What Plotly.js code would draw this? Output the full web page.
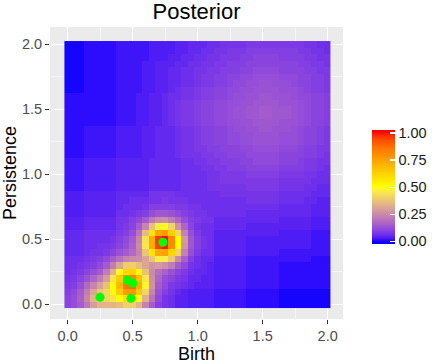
<!DOCTYPE html>
<html>
<head>
<meta charset="utf-8">
<script src="https://cdn.plot.ly/plotly-3.0.1.min.js"></script>
<style>html,body{margin:0;padding:0;background:#fff;}#chart{width:432px;height:364px;}</style>
</head>
<body>
<div id="chart"></div>
<script>
// Grid of tile centres (Birth on x, Persistence on y)
const gridX = [0,0.05,0.1,0.15,0.2,0.25,0.3,0.35,0.4,0.45,0.5,0.55,0.6,0.65,0.7,0.75,0.8,0.85,0.9,0.95,1,1.05,1.1,1.15,1.2,1.25,1.3,1.35,1.4,1.45,1.5,1.55,1.6,1.65,1.7,1.75,1.8,1.85,1.9,1.95,2];
const gridY = [0,0.05,0.1,0.15,0.2,0.25,0.3,0.35,0.4,0.45,0.5,0.55,0.6,0.65,0.7,0.75,0.8,0.85,0.9,0.95,1,1.05,1.1,1.15,1.2,1.25,1.3,1.35,1.4,1.45,1.5,1.55,1.6,1.65,1.7,1.75,1.8,1.85,1.9,1.95,2];

// Posterior intensity (in percent of max), one row per persistence value, bottom row first
const intensityPct = [
[10,12,15,21,29,34,34,34,36,40,40,34,23,15,9,7,6,4,4,3,3,3,3,2,2,2,2,2,1,1,1,1,1,0,0,0,0,0,0,0,0],
[10,12,16,24,34,40,42,44,51,59,59,49,33,20,11,7,6,4,4,3,3,3,3,2,2,2,2,2,1,1,1,1,1,0,0,0,0,0,0,0,0],
[9,11,15,22,31,38,42,50,64,77,78,64,41,24,13,9,7,5,4,3,3,3,3,2,2,2,2,2,1,1,1,1,1,0,0,0,0,0,0,0,0],
[8,9,12,18,24,30,37,50,69,86,88,72,48,27,15,11,8,7,6,5,4,4,4,3,3,3,3,3,2,2,2,2,2,1,1,1,1,1,1,1,1],
[7,8,10,13,17,22,29,44,64,80,82,67,45,26,17,12,10,8,7,5,5,4,4,3,3,3,3,3,2,2,2,2,2,1,1,1,1,1,1,1,1],
[6,7,8,10,12,15,22,33,49,61,62,52,37,25,19,16,13,10,8,6,5,5,4,3,3,3,3,3,2,2,2,2,2,1,1,1,1,1,1,1,1],
[6,6,7,8,9,11,15,22,31,39,40,36,31,27,28,26,22,15,11,7,6,5,4,3,3,3,3,3,2,2,2,2,2,1,1,1,1,1,1,1,1],
[6,6,6,7,8,9,11,15,19,23,25,26,31,38,46,46,38,25,16,9,6,5,5,3,3,3,3,3,2,2,2,2,2,2,2,2,2,2,1,1,1],
[5,5,5,6,7,7,8,10,13,15,18,24,38,57,73,75,61,40,23,12,8,6,6,4,4,4,4,4,3,3,3,3,3,2,2,2,2,2,2,2,2],
[5,5,5,6,6,7,7,8,10,12,16,25,45,72,95,99,80,50,27,14,9,7,6,4,4,4,4,4,3,3,3,3,3,3,3,3,3,3,2,2,2],
[5,5,5,6,6,6,6,7,9,11,15,24,44,72,96,100,81,51,28,14,9,7,6,4,4,4,4,4,3,3,3,3,3,3,3,3,3,3,2,2,2],
[5,5,5,6,6,6,6,6,8,9,12,20,36,57,74,77,63,41,23,12,8,6,6,4,4,4,4,4,4,4,4,4,4,3,3,3,3,3,2,2,2],
[4,4,4,5,5,5,5,5,7,8,10,15,24,37,47,49,41,27,17,10,7,6,6,5,5,5,5,5,4,4,4,4,4,4,4,4,4,4,3,3,3],
[4,4,4,5,5,5,5,5,7,7,9,11,15,21,25,26,22,17,12,9,8,7,7,5,5,5,5,5,5,5,5,5,5,4,4,4,4,4,3,3,3],
[3,3,3,4,4,4,4,4,6,6,7,8,9,12,14,14,13,11,9,8,7,7,6,6,6,6,6,6,5,5,5,5,5,5,5,5,5,5,4,4,4],
[3,3,3,4,4,4,4,4,5,6,6,6,7,9,9,9,9,8,8,7,7,6,6,6,6,6,6,6,6,6,6,6,6,5,5,5,5,5,4,4,4],
[3,3,3,4,4,4,4,4,5,5,6,6,6,7,7,8,7,7,7,6,6,6,6,6,6,6,6,6,7,7,7,7,7,6,6,6,6,5,5,4,4],
[3,3,3,4,4,4,4,4,5,5,5,5,5,7,7,7,7,6,6,6,6,6,6,6,7,7,7,7,7,7,7,7,7,6,6,6,6,6,5,5,5],
[2,2,2,3,3,3,3,3,4,4,4,4,4,5,5,5,5,5,6,6,6,6,7,7,7,7,7,7,8,8,8,8,8,7,7,7,7,6,6,5,5],
[2,2,2,3,3,3,3,3,4,4,4,4,4,5,5,5,5,5,6,6,6,6,7,7,8,8,8,8,8,8,8,8,8,7,7,7,7,7,6,6,6],
[2,2,2,3,3,3,3,3,4,4,4,4,4,5,5,5,5,5,6,6,6,6,7,7,8,8,8,8,9,9,9,9,9,8,8,8,8,7,7,6,6],
[2,2,2,3,3,3,3,3,4,4,4,4,4,5,5,5,5,5,6,6,6,7,7,8,8,9,9,9,10,10,10,10,10,9,9,9,9,8,8,7,6],
[2,2,2,3,3,3,3,3,4,4,4,4,4,5,5,5,5,5,6,6,7,7,8,8,9,9,9,10,10,11,11,11,11,10,10,10,9,8,8,7,7],
[1,1,1,2,2,2,2,2,3,3,3,3,4,4,5,5,5,6,7,7,7,8,8,9,9,10,10,10,11,11,11,11,11,10,10,10,10,9,9,8,7],
[1,1,1,2,2,2,2,2,3,3,3,3,4,4,5,5,5,6,7,7,8,8,9,9,10,10,10,11,11,12,12,12,12,11,11,11,10,9,9,8,8],
[1,1,1,2,2,2,2,2,3,3,3,3,4,4,5,5,5,6,7,7,8,9,9,10,10,11,11,12,12,13,13,13,13,12,12,12,11,10,10,9,8],
[1,1,1,2,2,2,2,2,3,3,3,3,4,4,5,5,5,6,7,7,8,9,9,10,10,11,11,12,12,13,13,13,13,12,12,12,11,10,10,9,8],
[1,1,1,2,2,2,2,2,3,3,3,3,4,4,5,5,5,6,7,7,8,9,9,10,10,11,12,12,13,13,14,14,13,13,13,12,11,10,10,9,8],
[1,1,1,1,1,1,1,1,2,2,2,3,3,4,4,5,6,7,8,8,9,10,10,11,11,12,12,13,13,14,14,14,14,13,13,13,12,11,10,10,9],
[1,1,1,1,1,1,1,1,2,2,2,3,3,4,4,5,6,7,8,8,9,10,10,11,11,12,13,13,14,14,15,15,14,14,14,13,12,11,10,10,9],
[1,1,1,1,1,1,1,1,2,2,2,3,3,4,4,5,6,7,8,8,9,10,10,11,11,12,13,13,14,14,15,15,14,14,14,13,12,11,10,10,9],
[1,1,1,1,1,1,1,1,2,2,2,3,3,4,4,5,6,7,8,8,9,10,10,11,11,12,12,13,13,14,14,14,14,13,13,13,12,11,10,10,9],
[1,1,1,1,1,1,1,1,2,2,2,3,3,4,4,5,6,6,7,7,8,9,9,10,10,11,12,12,13,13,14,14,13,13,13,12,11,11,10,10,9],
[0,0,0,1,1,1,1,1,2,2,2,2,3,3,4,4,5,6,7,7,8,9,9,10,10,11,11,12,12,13,13,13,13,12,12,12,11,10,9,9,8],
[0,0,0,1,1,1,1,1,2,2,2,2,3,3,4,4,5,5,6,6,7,8,8,9,9,10,11,11,12,12,13,13,12,12,12,11,10,10,9,9,8],
[0,0,0,1,1,1,1,1,2,2,2,2,3,3,4,4,5,5,6,6,7,8,8,9,9,10,10,11,11,12,12,12,12,11,11,11,10,10,9,9,8],
[0,0,0,1,1,1,1,1,2,2,2,2,3,3,4,4,5,5,6,6,7,7,8,8,9,9,9,10,10,11,11,11,11,10,10,10,10,9,9,8,8],
[0,0,0,1,1,1,1,1,2,2,2,2,3,3,4,4,4,5,5,6,6,7,7,8,8,9,9,9,10,10,10,10,10,10,10,10,9,9,8,8,7],
[0,0,0,1,1,1,1,1,2,2,2,2,2,3,3,3,4,4,5,5,6,6,7,7,8,8,8,9,9,10,10,10,10,9,9,9,9,8,8,7,7],
[0,0,0,1,1,1,1,1,2,2,2,2,2,3,3,3,3,4,4,5,5,6,6,7,7,8,8,8,9,9,9,9,9,9,9,9,8,8,7,7,6],
[0,0,0,1,1,1,1,1,2,2,2,2,2,3,3,3,3,4,4,5,5,5,6,6,7,7,7,7,8,8,8,8,8,8,8,8,8,7,7,6,6]
];

// Observed diagram points
const birth = [0.733, 0.459, 0.502, 0.249, 0.487];
const persistence = [0.477, 0.185, 0.162, 0.054, 0.046];

const axisTicks = [0, 0.5, 1, 1.5, 2];
const axisTickText = ['0.0', '0.5', '1.0', '1.5', '2.0'];
const legendTicks = [0, 0.25, 0.5, 0.75, 1];
const legendTickText = ['0.00', '0.25', '0.50', '0.75', '1.00'];
const paletteColors = ['#0000FF', '#FFFF00', '#FF0000'];

// ---- colour scale interpolated in CIE Lab (like ggplot's gradientn) ----
function hexToRgb(h){return [parseInt(h.substr(1,2),16),parseInt(h.substr(3,2),16),parseInt(h.substr(5,2),16)];}
function lin(c){c/=255;return c<=0.04045?c/12.92:Math.pow((c+0.055)/1.055,2.4);}
function delin(c){c=c<=0.0031308?12.92*c:1.055*Math.pow(c,1/2.4)-0.055;return Math.max(0,Math.min(255,Math.round(c*255)));}
function rgbToLab(rgb){
  const r=lin(rgb[0]),g=lin(rgb[1]),b=lin(rgb[2]);
  const X=(0.4124564*r+0.3575761*g+0.1804375*b)/0.95047;
  const Y=(0.2126729*r+0.7151522*g+0.0721750*b);
  const Z=(0.0193339*r+0.1191920*g+0.9503041*b)/1.08883;
  const f=t=>t>0.008856?Math.cbrt(t):7.787*t+16/116;
  const fx=f(X),fy=f(Y),fz=f(Z);
  return [116*fy-16,500*(fx-fy),200*(fy-fz)];
}
function labToRgb(lab){
  const fy=(lab[0]+16)/116, fx=fy+lab[1]/500, fz=fy-lab[2]/200;
  const fi=t=>{const t3=t*t*t;return t3>0.008856?t3:(t-16/116)/7.787;};
  const X=fi(fx)*0.95047,Y=fi(fy),Z=fi(fz)*1.08883;
  const r= 3.2404542*X-1.5371385*Y-0.4985314*Z;
  const g=-0.9692660*X+1.8760108*Y+0.0415560*Z;
  const b= 0.0556434*X-0.2040259*Y+1.0572252*Z;
  return [delin(r),delin(g),delin(b)];
}
const labs = paletteColors.map(c=>rgbToLab(hexToRgb(c)));
function colourAt(v){
  v=Math.max(0,Math.min(1,v));
  const seg=v<0.5?0:1, t=(v-seg*0.5)/0.5;
  const a=labs[seg],b=labs[seg+1];
  const rgb=labToRgb([a[0]+(b[0]-a[0])*t,a[1]+(b[1]-a[1])*t,a[2]+(b[2]-a[2])*t]);
  return 'rgb('+rgb.join(',')+')';
}
const zMin=-0.026, zMax=1.026;
const colorscale=[];
for(let k=0;k<=60;k++){const p=k/60;colorscale.push([p,colourAt(zMin+p*(zMax-zMin))]);}

const z = intensityPct.map(row=>row.map(v=>v/100));
const FONT='"Liberation Sans", Arial, sans-serif';

const heat = {
  type:'heatmap', x:gridX, y:gridY, z:z,
  colorscale:colorscale, zmin:zMin, zmax:zMax, zsmooth:false,
  hoverinfo:'skip',
  colorbar:{
    thickness:23, thicknessmode:'pixels', len:114, lenmode:'pixels',
    x:1.099, xanchor:'left', y:0.4515, yanchor:'middle',
    xpad:0, ypad:0, outlinewidth:0,
    tickmode:'array', tickvals:legendTicks, ticktext:legendTickText,
    ticks:'inside', ticklen:5, tickwidth:1.2, tickcolor:'white',
    tickfont:{family:FONT,size:14.5,color:'#1a1a1a'}
  }
};
const pts = {
  type:'scatter', mode:'markers', x:birth, y:persistence,
  marker:{color:'#00FF00', size:9}, hoverinfo:'skip', showlegend:false
};

const axisCommon = {
  tickmode:'array', tickvals:axisTicks, ticktext:axisTickText,
  showgrid:true, gridcolor:'#FFFFFF', gridwidth:1.1, zeroline:false, showline:false,
  ticks:'outside', ticklen:4, tickwidth:1.1, tickcolor:'#333333',
  tickfont:{family:FONT,size:14.5,color:'#4D4D4D'},
  minor:{tickvals:[0.25,0.75,1.25,1.75], showgrid:true, gridcolor:'#FFFFFF', gridwidth:0.55, ticks:''},
  automargin:false
};

const layout = {
  width:432, height:364,
  paper_bgcolor:'#FFFFFF', plot_bgcolor:'#EBEBEB',
  margin:{l:50, r:89, t:27, b:45, pad:0, autoexpand:false},
  font:{family:FONT, color:'#000000'},
  showlegend:false,
  title:{text:'Posterior', font:{family:FONT,size:22,color:'#000000'}, x:0.5, xref:'paper', xanchor:'center', y:0.99, yref:'container', yanchor:'top'},
  xaxis:Object.assign({}, axisCommon, {range:[-0.1359, 2.118], title:{text:'Birth', font:{family:FONT,size:18,color:'#000000'}, standoff:6}}),
  yaxis:Object.assign({}, axisCommon, {range:[-0.113, 2.133], title:{text:'Persistence', font:{family:FONT,size:18,color:'#000000'}, standoff:6}})
};

Plotly.newPlot('chart',[heat, pts],layout,{displayModeBar:false, staticPlot:true});
</script>
</body>
</html>
